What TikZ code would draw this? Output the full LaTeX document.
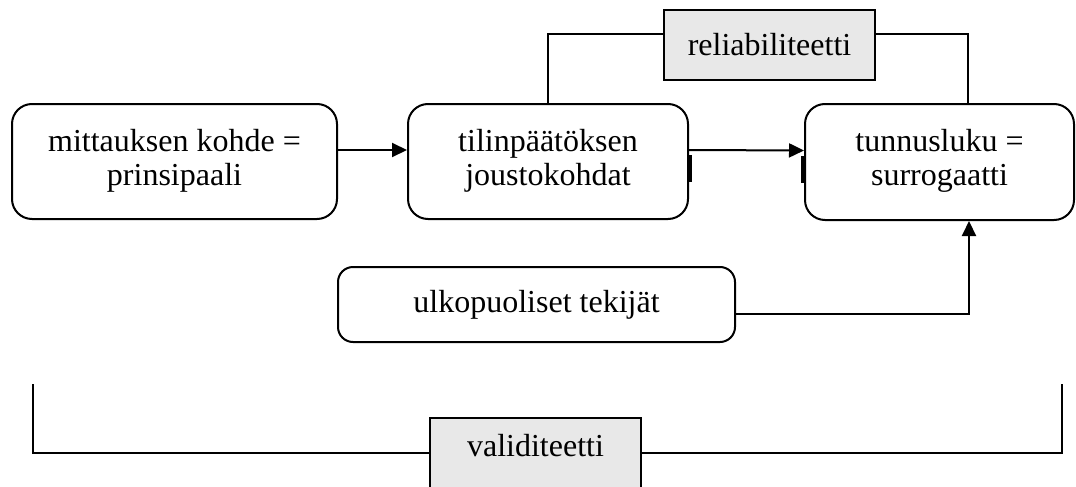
\documentclass[tikz,border=0pt]{standalone}
\usepackage{fontspec}
\setmainfont{Liberation Serif}
\usetikzlibrary{arrows.meta,calc}
\newcommand{\twolines}[2]{\raisebox{2.5pt}{\begin{tabular}{@{}c@{}}#1\\#2\end{tabular}}}
\begin{document}
\begin{tikzpicture}[x=0.5pt,y=-0.5pt,
  every node/.style={font=\fontsize{16}{17}\selectfont},
  rbox/.style={draw,line width=1pt,rounded corners=10pt,align=center,inner sep=0pt},
  gbox/.style={draw,line width=1pt,fill=black!9,inner sep=0pt},
  ln/.style={line width=1pt},
  arr/.style={line width=1pt,-{Triangle[length=7.5pt,width=7pt]}},
  tick/.style={line width=1.6pt}]
\useasboundingbox (0,0) rectangle (1076,487);
\clip (0,0) rectangle (1076,487);
\node[rbox,minimum width=162.5pt,minimum height=57.5pt] (box1) at (174.5,161.5) {\twolines{mittauksen kohde =}{prinsipaali}};
\node[rbox,minimum width=140pt,minimum height=57.5pt] (box2) at (548,161.5) {\twolines{tilinpäätöksen}{joustokohdat}};
\node[rbox,minimum width=134.5pt,minimum height=58pt] (box3) at (939.5,162) {\twolines{tunnusluku =}{surrogaatti}};
\node[rbox,rounded corners=7.5pt,minimum width=198.5pt,minimum height=37.5pt] (box4) at (536.5,304.5) {ulkopuoliset tekijät};
\node[gbox,minimum width=105.5pt,minimum height=35pt] (rel) at (769.5,45) {reliabiliteetti};
\node[gbox,anchor=north,minimum width=105.5pt,inner ysep=5pt,text height=14pt,text depth=30pt] (val) at (535.5,417) {validiteetti};
\coordinate (cL) at (33,384);
\coordinate (cR) at (1062,384);
% arrows
\draw[arr] ($(box1.east)+(0,-11.5)$) -- ($(box2.west)+(0,-11.5)$);
\draw[arr] ($(box2.east)+(0,-11.5)$) -- ($(box3.west)+(0,-11.5)$);
\draw[tick] ($(box2.east)+(1,-6.5)$) -- ($(box2.east)+(1,20.5)$);
\draw[tick] ($(box3.west)+(-1,-6.5)$) -- ($(box3.west)+(-1,20.5)$);
\draw[ln] ($(rel.west)+(0,-11)$) -| (box2.north);
\draw[ln] ($(rel.east)+(0,-11)$) -| ($(box3.north)+(28.5,0)$);
\draw[arr] ($(box4.east)+(0,9.5)$) -| ($(box3.south)+(29.5,0)$);
\draw[ln,line width=1.2pt] (cL) |- ($(val.north west)+(0,36)$);
\draw[ln,line width=1.2pt] ($(val.north east)+(0,36)$) -| (cR);
\end{tikzpicture}
\end{document}
